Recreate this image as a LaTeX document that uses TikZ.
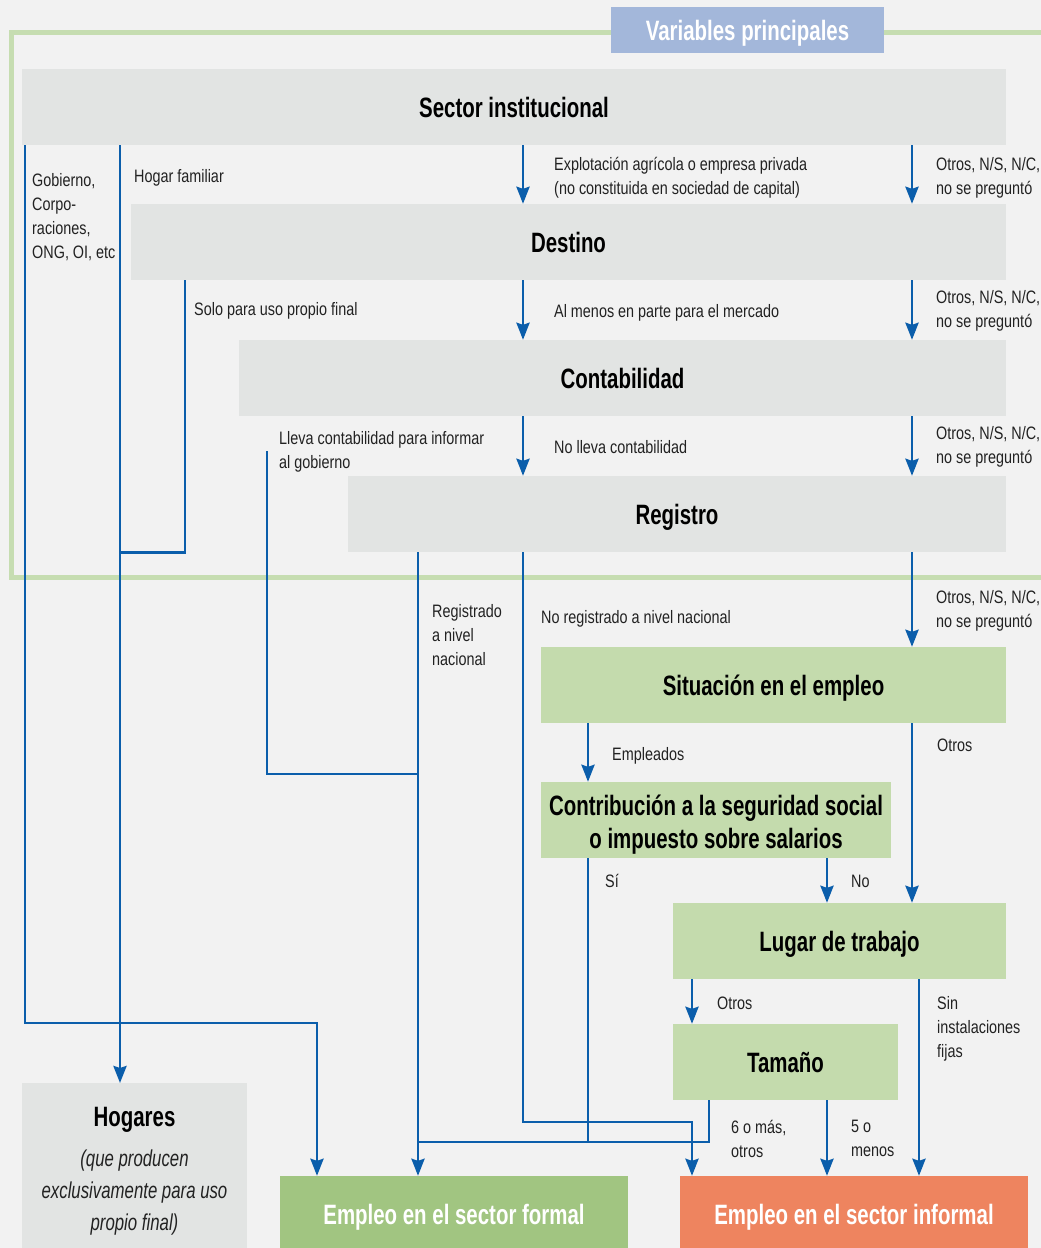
\documentclass[tikz,border=0pt]{standalone}
\usepackage{fontspec}
\setmainfont{Liberation Sans}[FakeStretch=0.8]
\newfontfamily\cnfont{Liberation Sans}[FakeStretch=0.73]
\usetikzlibrary{arrows.meta}
\definecolor{bgcol}{HTML}{F2F2F2}
\definecolor{boxgray}{HTML}{E2E4E3}
\definecolor{boxgreen}{HTML}{C4DBAD}
\definecolor{framegreen}{HTML}{C6DDB1}
\definecolor{titleblue}{HTML}{A3B7DA}
\definecolor{formalgreen}{HTML}{A1C581}
\definecolor{informalorange}{HTML}{EE845F}
\definecolor{flowblue}{HTML}{0B5EAB}
\definecolor{labeltext}{HTML}{222222}
\tikzset{
    box-base/.style = {rectangle, inner sep=0pt, minimum height=76pt, text=black, font=\cnfont\bfseries\fontsize{28}{33}\selectfont},
    var-box/.style = {box-base, text height=20pt, text depth=0pt},
    gray-box/.style = {var-box, fill=boxgray},
    green-box/.style = {var-box, fill=boxgreen},
    result-box/.style = {var-box, text=white},
    box-title/.style = {inner sep=0pt, anchor=base, text=black, font=\cnfont\bfseries\fontsize{28}{33}\selectfont},
    box-note/.style = {inner sep=0pt, anchor=north, align=center, text=labeltext, font=\cnfont\itshape\fontsize{23}{32}\selectfont, execute at begin node=\strut},
    flow/.style = {draw=flowblue, line width=2.9pt, -{Stealth[width=13pt, length=17pt, inset=2pt]}},
    link-line/.style = {draw=flowblue, line width=2.9pt},
    branch/.style = {anchor=north west, inner sep=0pt, align=left, text=labeltext, font=\fontsize{18}{24}\selectfont, execute at begin node=\strut},
}

\begin{document}
\begin{tikzpicture}[x=1pt, y=-1pt]
\fill[bgcol] (0,0) rectangle (1041,1248);
\useasboundingbox (0,0) rectangle (1041,1248);
\draw[framegreen, line width=5pt] (1050,32.5) -| (11.5,577.5) -- (1050,577.5);
\node[var-box, fill=titleblue, text=white, minimum width=273pt, minimum height=46pt] (vartitle) at (747.5,30) {Variables principales};

\node[gray-box, minimum width=984pt] (sector) at (514,107) {Sector institucional};
\node[gray-box, minimum width=875pt] (destino) at (568.5,242) {Destino};
\node[gray-box, minimum width=767pt] (contab) at (622.5,378) {Contabilidad};
\node[gray-box, minimum width=658pt] (registro) at (677,514) {Registro};
\node[green-box, minimum width=465pt] (situacion) at (773.5,685) {Situación en el empleo};
\node[box-base, fill=boxgreen, minimum width=350pt] (contrib) at (716,820) {};
\node[box-title, anchor=center, align=center] (contrib-text) at ([yshift=-4.5pt]contrib.center) {Contribución a la seguridad social\\o impuesto sobre salarios};
\node[green-box, minimum width=333pt] (lugar) at (839.5,941) {Lugar de trabajo};
\node[green-box, minimum width=225pt] (tamano) at (785.5,1062) {Tamaño};
\node[result-box, fill=formalgreen, minimum width=348pt] (formal) at (454,1214) {Empleo en el sector formal};
\node[result-box, fill=informalorange, minimum width=348pt] (informal) at (854,1214) {Empleo en el sector informal};
\node[box-base, fill=boxgray, minimum width=225pt, minimum height=177pt, anchor=north] (hogares) at (134.5,1083) {};
\node[box-title] (hogares-title) at ([yshift=-43pt]hogares.north) {Hogares};
\node[box-note] (hogares-note) at ([yshift=-66.6pt]hogares.north) {(que producen\\exclusivamente para uso\\propio final)};

\coordinate (col-gob) at (25,0);
\coordinate (col-hog) at (120,0);
\coordinate (col-solo) at (185,0);
\coordinate (col-reg) at (418,0);
\coordinate (col-main) at (523,0);
\coordinate (col-emp) at (588,0);
\coordinate (col-seis) at (709,0);
\coordinate (col-no) at (827,0);
\coordinate (col-otros) at (912,0);
\coordinate (col-sin) at (919,0);
\coordinate (gob-turn) at (317,1023);
\coordinate (lleva-start) at (267,451);
\coordinate (lleva-join) at (418,774);
\coordinate (noreg-turn) at (692,1122);
\coordinate (collect) at (418,1142);

\draw[flow] (sector.south -| col-gob) |- (gob-turn) -- (formal.north -| gob-turn);
\draw[flow] (sector.south -| col-hog) -- (hogares.north -| col-hog);
\draw[link-line] (destino.south -| col-solo) |- (registro.south -| col-hog);
\draw[link-line] (lleva-start) |- (lleva-join);
\draw[flow] (registro.south -| col-reg) -- (formal.north -| col-reg);
\draw[flow] (registro.south -| col-main) |- (noreg-turn) -- (informal.north -| noreg-turn);
\foreach \a/\b in {sector/destino, destino/contab, contab/registro}
    \draw[flow] (\a.south -| col-main) -- (\b.north -| col-main);
\foreach \a/\b in {sector/destino, destino/contab, contab/registro, registro/situacion, situacion/lugar}
    \draw[flow] (\a.south -| col-otros) -- (\b.north -| col-otros);
\draw[flow] (situacion.south -| col-emp) -- (contrib.north -| col-emp);
\draw[link-line] (contrib.south -| col-emp) -- (collect -| col-emp);
\draw[link-line] (tamano.south -| col-seis) |- (collect);
\draw[flow] (contrib.south -| col-no) -- (lugar.north -| col-no);
\draw[flow] (lugar.south -| noreg-turn) -- (tamano.north -| noreg-turn);
\draw[flow] (lugar.south -| col-sin) -- (informal.north -| col-sin);
\draw[flow] (tamano.south -| col-no) -- (informal.north -| col-no);

\node[branch] (lbl-gob) at (32,173) {Gobierno,\\Corpo-\\raciones,\\ONG, OI, etc};
\node[branch] (lbl-hogar) at (134,165) {Hogar familiar};
\node[branch] (lbl-explot) at (554,157) {Explotación agrícola o empresa privada\\(no constituida en sociedad de capital)};
\node[branch] (lbl-solo) at (194,298) {Solo para uso propio final};
\node[branch] (lbl-mercado) at (554,300) {Al menos en parte para el mercado};
\node[branch] (lbl-lleva) at (279,431) {Lleva contabilidad para informar\\al gobierno};
\node[branch] (lbl-nolleva) at (554,436) {No lleva contabilidad};
\foreach \n/\y in {1/157, 2/290, 3/426, 4/590}
    \node[branch] (lbl-otros\n) at (936,\y) {Otros, N/S, N/C,\\no se preguntó};
\node[branch] (lbl-reg) at (432,604) {Registrado\\a nivel\\nacional};
\node[branch] (lbl-noreg) at (541,606) {No registrado a nivel nacional};
\node[branch] (lbl-empleados) at (612,743) {Empleados};
\node[branch] (lbl-otros-sit) at (937,734) {Otros};
\node[branch] (lbl-si) at (605,870) {Sí};
\node[branch] (lbl-no) at (851,870) {No};
\node[branch] (lbl-otros-lug) at (717,992) {Otros};
\node[branch] (lbl-sin) at (937,996) {Sin\\instalaciones\\fijas};
\node[branch] (lbl-seis) at (731,1120) {6 o más,\\otros};
\node[branch] (lbl-cinco) at (851,1120) {5 o\\menos};
\end{tikzpicture}
\end{document}
